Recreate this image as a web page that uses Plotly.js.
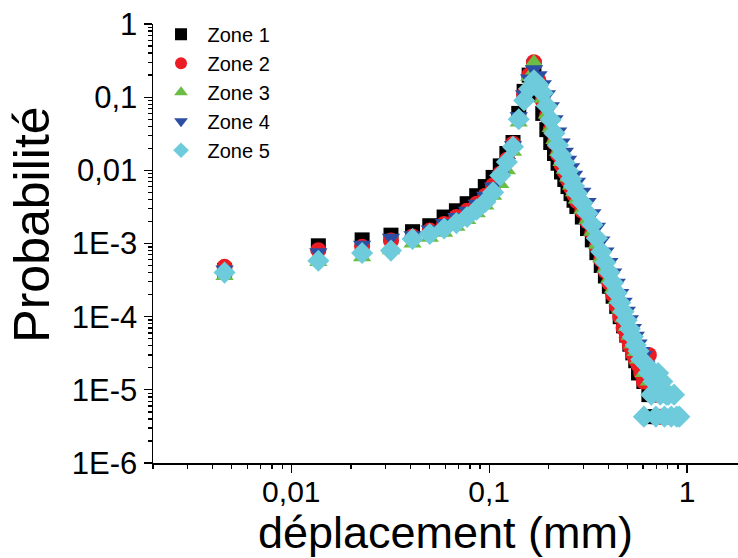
<!DOCTYPE html>
<html><head><meta charset="utf-8">
<script src="https://cdn.plot.ly/plotly-3.0.1.min.js"></script>
<style>html,body{margin:0;padding:0;background:#fff}</style>
</head><body><div id="chart" style="width:738px;height:558px"></div>
<script>
const zoneNames = ["Zone 1", "Zone 2", "Zone 3", "Zone 4", "Zone 5"];

// bin centres (mm), shared by all zones
const dep = [0.0046, 0.0137, 0.0228, 0.0319, 0.041, 0.0501, 0.0592, 0.0683, 0.0774, 0.0865,
  0.0956, 0.1047, 0.1138, 0.1229, 0.132, 0.1411, 0.1502, 0.1593, 0.1684, 0.1775,
  0.1866, 0.1957, 0.2048, 0.2139, 0.223, 0.2321, 0.2412, 0.2503, 0.2594, 0.2685,
  0.2776, 0.2958, 0.314, 0.3322, 0.3504, 0.3686, 0.3868, 0.405, 0.4232, 0.4414,
  0.4596, 0.4778, 0.496, 0.5142, 0.5324, 0.5506];

const zone1 = [4.3e-4, 9.3e-4, 1.12e-3, 1.3e-3, 1.45e-3, 1.75e-3, 2.3e-3, 2.8e-3, 3.5e-3, 4.5e-3,
  6.0e-3, 8.0e-3, 1.15e-2, 1.7e-2, 2.4e-2, 0.06, 0.12, 0.2, 0.26, 0.11,
  0.06, 0.036, 0.024, 0.017, 0.0125, 0.0095, 0.0075, 0.006, 0.0048, 0.0039,
  0.0032, 0.0023, 0.0016, 0.00112, 0.00075, 0.0005, 0.00036, 0.00026, 0.00019, 0.000138,
  0.0001, 0.000075, 0.000056, 0.000042, 0.000032, 0.000025];
const zone2 = [4.8e-4, 8.1e-4, 9.0e-4, 1.1e-3, 1.25e-3, 1.5e-3, 1.85e-3, 2.3e-3, 2.8e-3, 3.5e-3,
  4.5e-3, 6.2e-3, 9.0e-3, 1.4e-2, 2.3e-2, 0.05, 0.11, 0.2, 0.30, 0.17,
  0.09, 0.055, 0.036, 0.024, 0.0165, 0.012, 0.0095, 0.0074, 0.0058, 0.0047,
  0.0038, 0.0028, 0.002, 0.0014, 0.00092, 0.0006, 0.00042, 0.00029, 0.0002, 0.00014,
  0.0001, 0.00007, 0.000052, 0.00004, 0.000031, 0.000026];
const zone3 = [3.6e-4, 5.6e-4, 6.5e-4, 8.1e-4, 1.0e-3, 1.2e-3, 1.4e-3, 1.7e-3, 2.1e-3, 2.6e-3,
  3.3e-3, 4.5e-3, 6.5e-3, 1.0e-2, 1.8e-2, 0.045, 0.1, 0.19, 0.30, 0.17,
  0.095, 0.058, 0.038, 0.026, 0.018, 0.013, 0.0102, 0.008, 0.0062, 0.005,
  0.004, 0.0029, 0.0021, 0.00145, 0.00096, 0.00063, 0.00045, 0.00033, 0.00024, 0.00017,
  0.000125, 0.000095, 0.000072, 0.000055, 0.000042, 0.000033];
const zone4 = [4.4e-4, 7.6e-4, 9.6e-4, 1.2e-3, 1.3e-3, 1.55e-3, 1.9e-3, 2.3e-3, 2.8e-3, 3.5e-3,
  4.5e-3, 6.0e-3, 8.6e-3, 1.3e-2, 2.2e-2, 0.055, 0.11, 0.18, 0.24, 0.2,
  0.15, 0.11, 0.075, 0.05, 0.034, 0.024, 0.018, 0.014, 0.011, 0.0087,
  0.007, 0.0051, 0.0037, 0.0026, 0.0017, 0.0011, 0.00078, 0.00056, 0.0004, 0.00029,
  0.00021, 0.00016, 0.00012, 0.000092, 0.00007, 0.000055];
const zone5 = [4.0e-4, 5.8e-4, 7.4e-4, 8.0e-4, 1.15e-3, 1.35e-3, 1.6e-3, 1.9e-3, 2.3e-3, 2.9e-3,
  3.7e-3, 5.0e-3, 8.5e-3, 1.3e-2, 2.1e-2, 0.05, 0.09, 0.13, 0.17, 0.147,
  0.114, 0.076, 0.049, 0.032, 0.022, 0.016, 0.0126, 0.0098, 0.0076, 0.0061,
  0.0049, 0.0036, 0.0026, 0.0018, 0.00118, 0.00077, 0.00055, 0.0004, 0.00029, 0.00021,
  0.000155, 0.000117, 0.000089, 0.000068, 0.000053, 0.000041];

// sparse tails (bins with few counts)
const tail1X = [0.5688, 0.6052, 0.6416, 0.678, 0.7144];
const tail1Y = [1.7e-5, 1.3e-5, 8.6e-6, 4.3e-6, 4.3e-6];
const tail2X = [0.5688, 0.587, 0.6052, 0.6234, 0.6416, 0.6598, 0.6962, 0.7326, 0.769, 0.8054];
const tail2Y = [2.2e-5, 1.7e-5, 1.3e-5, 1.3e-5, 3.0e-5, 8.6e-6, 8.6e-6, 4.3e-6, 4.3e-6, 4.3e-6];
const tail3X = [0.5688, 0.6052, 0.6416, 0.678, 0.7144, 0.7508, 0.7872];
const tail3Y = [2.6e-5, 1.7e-5, 1.3e-5, 8.6e-6, 8.6e-6, 4.3e-6, 4.3e-6];
const tail4X = [0.5688, 0.587, 0.6052, 0.6234, 0.6416, 0.678, 0.7144, 0.7508, 0.7872, 0.8236];
const tail4Y = [4.3e-5, 3.4e-5, 3.0e-5, 2.2e-5, 1.7e-5, 1.3e-5, 8.6e-6, 8.6e-6, 4.3e-6, 4.3e-6];
const tail5X = [0.5688, 0.587, 0.6052, 0.6234, 0.6416, 0.6598, 0.678, 0.6962, 0.7144, 0.7326,
  0.7508, 0.769, 0.7872, 0.8054, 0.8327, 0.86, 0.8873, 0.9146];
const tail5Y = [3.4e-5, 2.6e-5, 4.3e-6, 2.2e-5, 1.7e-5, 8.6e-6, 1.3e-5, 4.3e-6, 1.7e-5, 8.6e-6,
  1.3e-5, 4.3e-6, 8.6e-6, 8.6e-6, 4.3e-6, 8.6e-6, 4.3e-6, 4.3e-6];

const xTickVals = [0.01, 0.1, 1];
const xTickText = ["0,01", "0,1", "1"];
const yTickVals = [1, 0.1, 0.01, 0.001, 1e-4, 1e-5, 1e-6];
const yTickText = ["1", "0,1", "0,01", "1E-3", "1E-4", "1E-5", "1E-6"];

const ys = [zone1, zone2, zone3, zone4, zone5];
const tx = [tail1X, tail2X, tail3X, tail4X, tail5X];
const ty = [tail1Y, tail2Y, tail3Y, tail4Y, tail5Y];
const colors = ["#000000", "#EC1C24", "#6CBD45", "#2C4FA3", "#6DCBDB"];
const symbols = ["square", "circle", "triangle-up", "triangle-down", "diamond"];
const sizes = [15, 16, 16, 16, 17];

const traces = zoneNames.map((name, i) => ({
  type: "scatter", mode: "markers", name: name,
  x: dep.concat(tx[i]), y: ys[i].concat(ty[i]),
  marker: {symbol: symbols[i], color: colors[i], size: sizes[i], line: {width: 0}}
}));

const FONT = "Liberation Sans, Arial, sans-serif";
const layout = {
  width: 738, height: 558, autosize: false,
  margin: {l: 153, r: 0, t: 24, b: 95, pad: 0},
  paper_bgcolor: "#fff", plot_bgcolor: "#fff",
  showlegend: true,
  legend: {x: 0.0026, y: 1.021, xanchor: "left", yanchor: "top", bgcolor: "rgba(0,0,0,0)",
    font: {family: FONT, size: 20, color: "#000"}, itemsizing: "constant", itemwidth: 43, tracegroupgap: 0},
  xaxis: {
    type: "log", range: [Math.log10(0.002), Math.log10(1.81)],
    tickmode: "array", tickvals: xTickVals, ticktext: xTickText,
    ticks: "outside", ticklen: 8, tickwidth: 1.3, tickcolor: "#000",
    ticklabelposition: "outside", ticklabelstandoff: -7,
    minor: {dtick: "D1", ticks: "outside", ticklen: 4, tickwidth: 1.3, tickcolor: "#000", showgrid: false},
    showline: true, linecolor: "#000", linewidth: 1.5, showgrid: false, zeroline: false,
    tickfont: {family: FONT, size: 30, color: "#000"},
    title: {text: "déplacement (mm)", font: {family: FONT, size: 45, color: "#000"}, standoff: 0}
  },
  yaxis: {
    type: "log", range: [-6, 0],
    tickmode: "array", tickvals: yTickVals, ticktext: yTickText,
    ticks: "outside", ticklen: 8, tickwidth: 1.3, tickcolor: "#000",
    minor: {dtick: "D1", ticks: "outside", ticklen: 4, tickwidth: 1.3, tickcolor: "#000", showgrid: false},
    showline: true, linecolor: "#000", linewidth: 1.5, showgrid: false, zeroline: false,
    tickfont: {family: FONT, size: 31, color: "#000"}
  },
  annotations: [{
    text: "Probabilité", xref: "paper", yref: "paper", x: -0.206, y: 0.544,
    xanchor: "center", yanchor: "middle", textangle: -90, showarrow: false,
    font: {family: FONT, size: 50, color: "#000"}
  }]
};

Plotly.newPlot("chart", traces, layout, {displayModeBar: false, staticPlot: true});
</script>
</body></html>
